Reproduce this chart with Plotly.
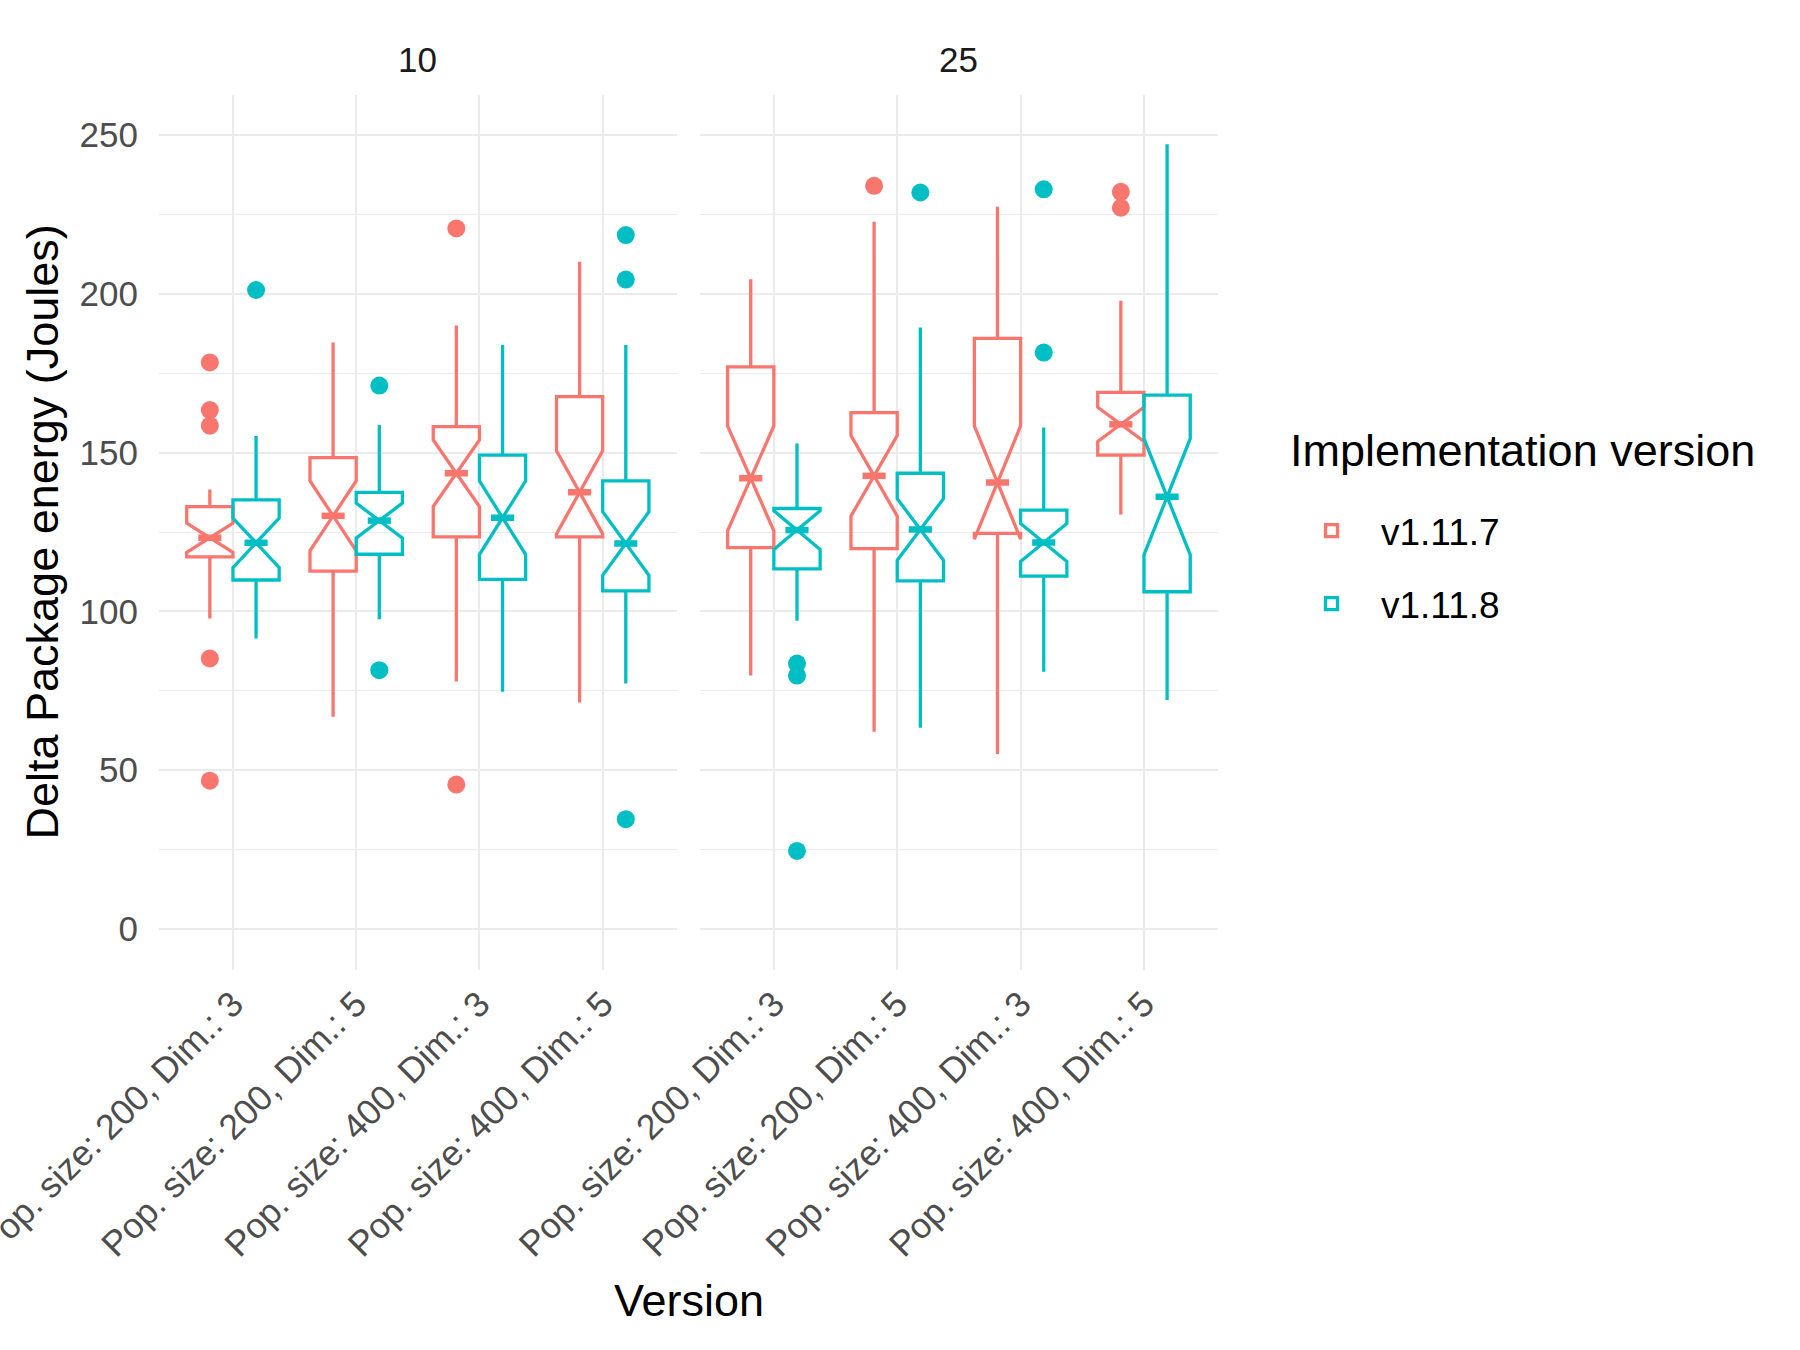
import plotly.graph_objects as go

# ---------------- data ----------------
categories = ["Pop. size: 200, Dim.: 3", "Pop. size: 200, Dim.: 5",
              "Pop. size: 400, Dim.: 3", "Pop. size: 400, Dim.: 5"]
facets = ["10", "25"]
versions = ["v1.11.7", "v1.11.8"]

# facet "10", v1.11.7
f10_v117_lower = [97.8, 66.8, 77.9, 71.3]
f10_v117_q1 = [117.2, 112.7, 123.5, 123.5]
f10_v117_median = [123.2, 130.1, 143.5, 137.5]
f10_v117_q3 = [133.0, 148.4, 158.2, 167.6]
f10_v117_upper = [138.4, 184.7, 190.0, 210.1]
f10_v117_notch = [4.6, 11.0, 10.5, 13.1]
f10_v117_outliers = [[178.4, 163.4, 158.5, 85.2, 46.7], [], [220.6, 45.5], []]

# facet "10", v1.11.8
f10_v118_lower = [91.5, 97.5, 74.7, 77.3]
f10_v118_q1 = [109.9, 118.0, 110.1, 106.5]
f10_v118_median = [121.6, 128.6, 129.5, 121.4]
f10_v118_q3 = [135.1, 137.5, 149.2, 141.1]
f10_v118_upper = [155.2, 158.7, 183.9, 183.9]
f10_v118_notch = [7.8, 5.5, 11.6, 10.0]
f10_v118_outliers = [[201.2], [171.1, 81.5], [], [218.5, 204.5, 34.6]]

# facet "25", v1.11.7
f25_v117_lower = [79.8, 62.1, 55.1, 130.5]
f25_v117_q1 = [120.1, 119.8, 124.6, 149.2]
f25_v117_median = [141.9, 142.7, 140.6, 158.9]
f25_v117_q3 = [177.0, 162.6, 186.0, 169.0]
f25_v117_upper = [204.6, 222.7, 227.4, 197.8]
f25_v117_notch = [16.5, 12.7, 17.8, 5.4]
f25_v117_outliers = [[], [234.0], [], [232.1, 227.1]]

# facet "25", v1.11.8
f25_v118_lower = [97.1, 63.4, 81.0, 72.1]
f25_v118_q1 = [113.4, 109.6, 111.1, 106.2]
f25_v118_median = [125.6, 125.8, 121.7, 136.1]
f25_v118_q3 = [132.4, 143.5, 131.9, 168.1]
f25_v118_upper = [152.9, 189.4, 157.9, 247.1]
f25_v118_notch = [6.1, 9.7, 6.0, 18.3]
f25_v118_outliers = [[83.6, 79.8, 24.6], [231.9], [232.9, 181.5], []]

y_ticks = [0, 50, 100, 150, 200, 250]

# ---------------- styling ----------------
COLORS = {"v1.11.7": "#F8766D", "v1.11.8": "#00BFC4"}
OFFSETS = {"v1.11.7": -0.1875, "v1.11.8": 0.1875}
BOX_W = 0.375
FONT = "Liberation Sans, Arial, Helvetica, sans-serif"
GRID = "#EBEBEB"
D1 = [0.0, 0.4888]
D2 = [0.5107, 1.0]

series = {
    ("10", "v1.11.7"): (f10_v117_lower, f10_v117_q1, f10_v117_median, f10_v117_q3, f10_v117_upper, f10_v117_notch, f10_v117_outliers),
    ("10", "v1.11.8"): (f10_v118_lower, f10_v118_q1, f10_v118_median, f10_v118_q3, f10_v118_upper, f10_v118_notch, f10_v118_outliers),
    ("25", "v1.11.7"): (f25_v117_lower, f25_v117_q1, f25_v117_median, f25_v117_q3, f25_v117_upper, f25_v117_notch, f25_v117_outliers),
    ("25", "v1.11.8"): (f25_v118_lower, f25_v118_q1, f25_v118_median, f25_v118_q3, f25_v118_upper, f25_v118_notch, f25_v118_outliers),
}

fig = go.Figure()
cat_idx = list(range(len(categories)))

for fi, facet in enumerate(facets):
    xa = "x" if fi == 0 else "x2"
    ya = "y" if fi == 0 else "y2"
    for v in versions:
        lo, q1, med, q3, up, notch, outs = series[(facet, v)]
        xs = [i + OFFSETS[v] for i in cat_idx]
        col = COLORS[v]
        fig.add_trace(go.Box(
            x=xs, q1=q1, median=med, q3=q3, lowerfence=lo, upperfence=up,
            notchspan=notch, notched=True, notchwidth=0.5,
            width=BOX_W, whiskerwidth=0,
            line=dict(color=col, width=3.3), fillcolor="rgba(255,255,255,0)",
            boxpoints=False, name=v, legendgroup=v,
            showlegend=(fi == 0), xaxis=xa, yaxis=ya,
        ))
        # thick median segments (ggplot fatten)
        mx, my = [], []
        for x0, m in zip(xs, med):
            mx += [x0 - BOX_W / 4, x0 + BOX_W / 4, None]
            my += [m, m, None]
        fig.add_trace(go.Scatter(
            x=mx, y=my, mode="lines", line=dict(color=col, width=6.5),
            showlegend=False, legendgroup=v, hoverinfo="skip",
            xaxis=xa, yaxis=ya,
        ))
        # outliers
        ox, oy = [], []
        for x0, o in zip(xs, outs):
            ox += [x0] * len(o)
            oy += o
        fig.add_trace(go.Scatter(
            x=ox, y=oy, mode="markers",
            marker=dict(color=col, size=18, line=dict(width=0)),
            showlegend=False, legendgroup=v, xaxis=xa, yaxis=ya,
        ))

xaxis_common = dict(
    range=[-0.6, 3.6], tickvals=cat_idx, ticktext=categories, tickangle=-45,
    showgrid=True, gridcolor=GRID, gridwidth=2.2, zeroline=False,
    showline=False, ticks="", tickfont=dict(family=FONT, size=35.5, color="#4D4D4D"),
    ticklabelstandoff=5, ticklabeloverflow="allow",
)
yaxis_common = dict(
    range=[-12.9, 262.6], tickvals=y_ticks, showgrid=True, gridcolor=GRID,
    gridwidth=2.2, zeroline=False, showline=False, ticks="",
    minor=dict(dtick=25, tick0=0, showgrid=True, gridcolor=GRID, gridwidth=1.1),
    tickfont=dict(family=FONT, size=35, color="#4D4D4D"),
)

L, R, T, B = 159, 582, 95, 380
PW = 1800 - L - R
PH = 1350 - T - B


def px_x(px):
    return (px - L) / PW


def px_y(py):
    return (1350 - B - py) / PH


fig.update_layout(
    width=1800, height=1350,
    margin=dict(l=L, r=R, t=T, b=B, autoexpand=False),
    paper_bgcolor="white", plot_bgcolor="white",
    boxmode="overlay",
    font=dict(family=FONT, color="black"),
    xaxis=dict(domain=D1, **xaxis_common),
    xaxis2=dict(domain=D2, **xaxis_common),
    yaxis=dict(anchor="x", ticklabelstandoff=20, **yaxis_common),
    yaxis2=dict(anchor="x2", matches="y", showticklabels=False, **yaxis_common),
    legend=dict(
        x=px_x(1282), xanchor="left", y=px_y(500), yanchor="top",
        font=dict(family=FONT, size=37, color="black"),
        tracegroupgap=22, itemwidth=89,
    ),
    annotations=[
        dict(text=facets[0], x=sum(D1) / 2, y=px_y(60), xref="paper", yref="paper",
             showarrow=False, xanchor="center", yanchor="middle",
             font=dict(family=FONT, size=35, color="#1A1A1A")),
        dict(text=facets[1], x=sum(D2) / 2, y=px_y(60), xref="paper", yref="paper",
             showarrow=False, xanchor="center", yanchor="middle",
             font=dict(family=FONT, size=35, color="#1A1A1A")),
        dict(text="Version", x=px_x(689), y=px_y(1300), xref="paper", yref="paper",
             showarrow=False, xanchor="center", yanchor="middle",
             font=dict(family=FONT, size=45, color="black")),
        dict(text="Delta Package energy (Joules)", x=px_x(42), y=0.5,
             xref="paper", yref="paper", textangle=-90, showarrow=False,
             xanchor="center", yanchor="middle",
             font=dict(family=FONT, size=45, color="black")),
        dict(text="Implementation version", x=px_x(1288), y=px_y(451),
             xref="paper", yref="paper", showarrow=False,
             xanchor="left", yanchor="middle",
             font=dict(family=FONT, size=45, color="black")),
    ],
)

fig.write_html("out.html")
